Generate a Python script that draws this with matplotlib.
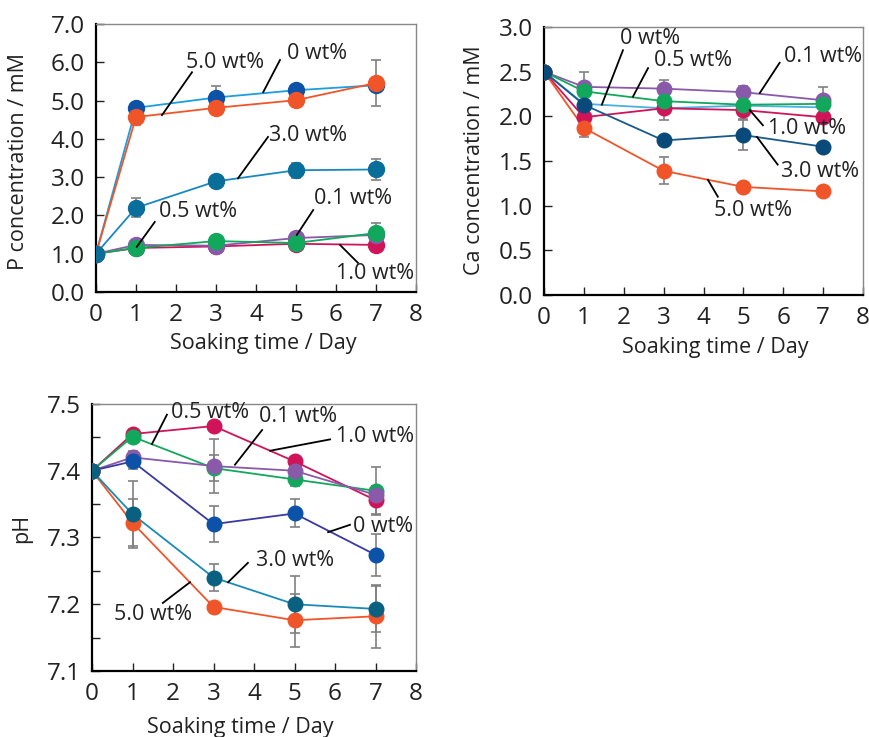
import numpy as np
import matplotlib
matplotlib.use('Agg')
import matplotlib.pyplot as plt
from matplotlib.ticker import MultipleLocator, FormatStrFormatter

plt.rcParams['font.family'] = ['Open Sans', 'DejaVu Sans']

days = [0, 1, 3, 5, 7]
labels = ['0 wt%', '0.1 wt%', '0.5 wt%', '1.0 wt%', '3.0 wt%', '5.0 wt%']

# P concentration / mM
p_0 = [1.0, 4.81, 5.08, 5.27, 5.40]
p_01 = [1.0, 1.23, 1.21, 1.41, 1.49]
p_05 = [1.0, 1.15, 1.33, 1.28, 1.54]
p_10 = [1.0, 1.15, 1.19, 1.26, 1.23]
p_30 = [1.0, 2.20, 2.89, 3.18, 3.20]
p_50 = [1.0, 4.57, 4.81, 5.01, 5.46]
p_err_0 = [0, 0, 0.30, 0, 0]
p_err_01 = [0, 0, 0, 0, 0]
p_err_05 = [0, 0, 0, 0, 0.25]
p_err_10 = [0, 0, 0, 0, 0]
p_err_30 = [0, 0.25, 0, 0.20, 0.27]
p_err_50 = [0, 0.20, 0, 0, 0.60]

# Ca concentration / mM
ca_0 = [2.5, 2.14, 2.09, 2.12, 2.10]
ca_01 = [2.5, 2.33, 2.31, 2.27, 2.18]
ca_05 = [2.5, 2.28, 2.17, 2.13, 2.14]
ca_10 = [2.5, 1.99, 2.09, 2.07, 1.99]
ca_30 = [2.5, 2.13, 1.73, 1.79, 1.66]
ca_50 = [2.5, 1.87, 1.39, 1.21, 1.16]
ca_err_0 = [0, 0, 0, 0, 0]
ca_err_01 = [0, 0.17, 0.10, 0.07, 0.15]
ca_err_05 = [0, 0, 0, 0, 0]
ca_err_10 = [0, 0, 0.13, 0.10, 0]
ca_err_30 = [0, 0, 0, 0.17, 0]
ca_err_50 = [0, 0.10, 0.15, 0, 0]

# pH
ph_0 = [7.40, 7.414, 7.320, 7.336, 7.274]
ph_01 = [7.40, 7.420, 7.407, 7.400, 7.364]
ph_05 = [7.40, 7.451, 7.404, 7.387, 7.370]
ph_10 = [7.40, 7.455, 7.467, 7.414, 7.356]
ph_30 = [7.40, 7.335, 7.240, 7.200, 7.193]
ph_50 = [7.40, 7.322, 7.196, 7.176, 7.182]
ph_err_0 = [0, 0.012, 0.027, 0.021, 0.031]
ph_err_01 = [0, 0.010, 0.041, 0, 0]
ph_err_05 = [0, 0, 0.020, 0.010, 0.036]
ph_err_10 = [0, 0, 0, 0, 0.021]
ph_err_30 = [0, 0.050, 0.020, 0.043, 0.035]
ph_err_50 = [0, 0.035, 0.008, 0.040, 0.047]

# colours (markers)
c_0 = '#0b52a8'
c_01 = '#8a5aaa'
c_05 = '#12a85c'
c_10 = '#d0145a'
c_50 = '#f0552a'

fig = plt.figure(figsize=(8.69, 7.37), dpi=100)
W, H = 869, 737


def px_axes(l, t, r, b):
    return fig.add_axes([l / W, 1 - b / H, (r - l) / W, (b - t) / H])


def style(ax, ymin, ymax, ymajor, yminor=None):
    ax.set_xlim(0, 8)
    ax.set_ylim(ymin, ymax)
    ax.xaxis.set_major_locator(MultipleLocator(1))
    ax.yaxis.set_major_locator(MultipleLocator(ymajor))
    if yminor:
        ax.yaxis.set_minor_locator(MultipleLocator(yminor))
    ax.yaxis.set_major_formatter(FormatStrFormatter('%.1f'))
    ax.tick_params(which='both', direction='in', length=6, width=1,
                   labelsize=17.5, pad=8, colors='#222222')
    for s in ['left', 'bottom']:
        ax.spines[s].set_linewidth(1.6)
        ax.spines[s].set_color('black')
    for s in ['top', 'right']:
        ax.spines[s].set_linewidth(1)
        ax.spines[s].set_color('#888888')


def series(ax, y, err, mc, lc, ms=11.5):
    ax.errorbar(days, y, yerr=[e if e else np.nan for e in err], fmt='none',
                ecolor='#808080', elinewidth=1.2, capsize=3.5, capthick=1.2, zorder=2)
    ax.plot(days, y, color=lc, lw=1.3, zorder=3)
    ax.plot(days, y, 'o', color=mc, ms=ms, mec=mc, zorder=4)


def note(ax, text, tx, ty, x1, y1, x2, y2):
    ax.plot([x1, x2], [y1, y2], color='black', lw=1.3, zorder=5)
    ax.text(tx, ty, text, ha='center', va='center', fontsize=15.5,
            color='#222222', zorder=6)


def flabel(text, x, y, rot=0):
    fig.text(x / W, 1 - y / H, text, ha='center', va='center', rotation=rot,
             fontsize=15.5, color='#222222')


# P concentration
ax1 = px_axes(96, 24, 416, 292)
series(ax1, p_10, p_err_10, c_10, c_10)
series(ax1, p_01, p_err_01, c_01, c_01)
series(ax1, p_05, p_err_05, c_05, c_05)
series(ax1, p_0, p_err_0, c_0, '#1a9ee0')
series(ax1, p_50, p_err_50, c_50, c_50)
series(ax1, p_30, p_err_30, '#0a6e9a', '#1a88c0')
style(ax1, 0, 7, 1)
note(ax1, '5.0 wt%', 3.22, 6.0, 2.4, 5.74, 1.65, 4.62)
note(ax1, '0 wt%', 5.52, 6.24, 4.6, 6.06, 4.18, 5.22)
note(ax1, '3.0 wt%', 5.3, 4.1, 4.3, 4.05, 3.55, 2.97)
note(ax1, '0.5 wt%', 2.55, 2.09, 1.47, 1.83, 1.02, 1.18)
note(ax1, '0.1 wt%', 6.43, 2.43, 5.43, 2.14, 5.02, 1.49)
note(ax1, '1.0 wt%', 6.98, 0.49, 6.55, 0.76, 6.1, 1.23)
flabel('P concentration / mM', 19, 162, 90)
flabel('Soaking time / Day', 263, 343)

# Ca concentration
ax2 = px_axes(544, 27, 863, 295)
series(ax2, ca_0, ca_err_0, '#4ab0e0', '#4ab0e0', ms=2)
series(ax2, ca_10, ca_err_10, c_10, c_10, ms=10.5)
series(ax2, ca_01, ca_err_01, c_01, c_01, ms=10.5)
series(ax2, ca_05, ca_err_05, c_05, c_05, ms=10.5)
series(ax2, ca_50, ca_err_50, c_50, c_50, ms=10.5)
series(ax2, ca_30, ca_err_30, '#0a4a7a', '#1a5a8a', ms=10.5)
style(ax2, 0, 3, 0.5)
note(ax2, '0 wt%', 2.66, 2.87, 1.98, 2.74, 1.45, 2.13)
note(ax2, '0.5 wt%', 3.73, 2.63, 2.61, 2.54, 2.23, 2.22)
note(ax2, '0.1 wt%', 6.99, 2.67, 5.91, 2.60, 5.41, 2.26)
note(ax2, '1.0 wt%', 6.59, 1.86, 5.49, 1.90, 5.16, 2.07)
note(ax2, '3.0 wt%', 6.92, 1.38, 5.86, 1.46, 5.34, 1.77)
note(ax2, '5.0 wt%', 5.24, 0.95, 4.36, 1.10, 4.11, 1.29)
flabel('Ca concentration / mM', 475, 160, 90)
flabel('Soaking time / Day', 715, 347)

# pH
ax3 = px_axes(92, 404, 416, 671)
series(ax3, ph_10, ph_err_10, c_10, c_10, ms=10.5)
series(ax3, ph_05, ph_err_05, c_05, c_05, ms=10.5)
series(ax3, ph_01, ph_err_01, c_01, c_01, ms=10.5)
series(ax3, ph_0, ph_err_0, c_0, '#3a3aa0', ms=10.5)
series(ax3, ph_50, ph_err_50, c_50, c_50, ms=10.5)
series(ax3, ph_30, ph_err_30, '#0a6080', '#1a8ab8', ms=10.5)
style(ax3, 7.1, 7.5, 0.1, 0.05)
note(ax3, '0.5 wt%', 2.91, 7.487, 1.85, 7.484, 1.48, 7.440)
note(ax3, '0.1 wt%', 5.09, 7.482, 4.2, 7.461, 3.53, 7.409)
note(ax3, '1.0 wt%', 6.99, 7.451, 5.88, 7.447, 4.40, 7.430)
note(ax3, '0 wt%', 7.19, 7.317, 6.37, 7.319, 5.83, 7.308)
note(ax3, '3.0 wt%', 5.01, 7.265, 3.85, 7.262, 3.36, 7.233)
note(ax3, '5.0 wt%', 1.51, 7.184, 1.75, 7.202, 2.42, 7.233)
flabel('pH', 22, 528, 90)
flabel('Soaking time / Day', 240, 728)

fig.savefig('out.png', dpi=100)
